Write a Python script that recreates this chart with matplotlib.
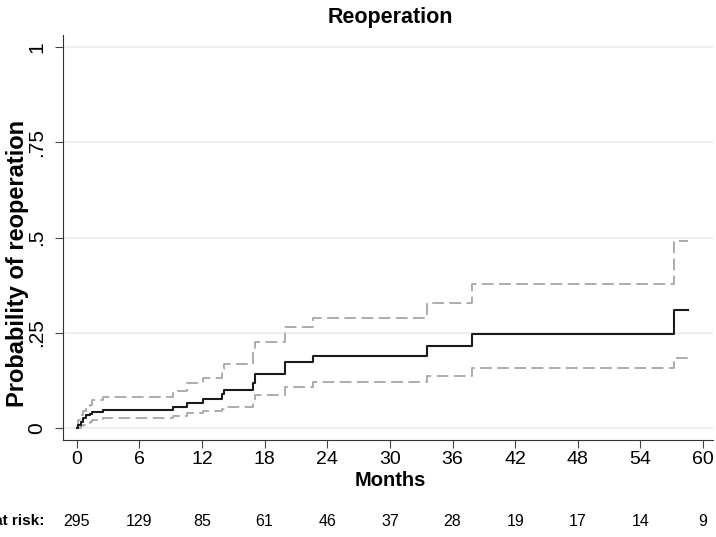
import matplotlib
matplotlib.use("Agg")
import matplotlib.pyplot as plt
from matplotlib.transforms import blended_transform_factory

plt.rcParams["font.family"] = ["Liberation Sans", "DejaVu Sans"]

# event times (months) and cumulative probability with 95% CI
times = [0, 0.15, 0.4, 0.65, 0.9, 1.25, 1.5, 2.55, 9.2, 10.6, 12.1, 13.9, 14.1,
         16.9, 17.1, 20.0, 22.6, 33.6, 37.9, 57.2]
prob = [0, 0.007, 0.017, 0.027, 0.034, 0.038, 0.043, 0.047, 0.054, 0.066, 0.076,
        0.089, 0.100, 0.118, 0.143, 0.172, 0.190, 0.215, 0.246, 0.309]
upper = [0.0, 0.02, 0.035, 0.045, 0.055, 0.06, 0.073, 0.081, 0.097, 0.117, 0.132,
         0.155, 0.169, 0.2, 0.225, 0.266, 0.29, 0.329, 0.377, 0.492]
lower = [0.0, 0.0, 0.004, 0.008, 0.012, 0.016, 0.022, 0.025, 0.031, 0.039, 0.045,
         0.050, 0.056, 0.07, 0.087, 0.108, 0.12, 0.137, 0.158, 0.184]
t_end = 58.6

risk_times = [0, 6, 12, 18, 24, 30, 36, 42, 48, 54, 60]
at_risk = [295, 129, 85, 61, 46, 37, 28, 19, 17, 14, 9]

yticks = [0, 0.25, 0.5, 0.75, 1]
ytick_labels = ["0", ".25", ".5", ".75", "1"]

fig = plt.figure(figsize=(7.16, 5.37), dpi=100)
ax = fig.add_axes([63 / 716, 97 / 537, 650 / 716, 405 / 537])

tt = times + [t_end]
ax.step(tt, upper + [upper[-1]], where="post", color="#a6a6a6", lw=1.3,
        dashes=(6.5, 3))
ax.step(tt, lower + [lower[-1]], where="post", color="#a6a6a6", lw=1.3,
        dashes=(6.5, 3))
ax.step(tt, prob + [prob[-1]], where="post", color="#1a1a1a", lw=1.5)

ax.set_xlim(-1.31, 60.95)
ax.set_ylim(-0.0315, 1.0315)
ax.set_xticks(risk_times)
ax.set_yticks(yticks)
ax.set_yticklabels(ytick_labels, rotation=90, va="center")
ax.tick_params(length=6, color="#444444", direction="out")
ax.tick_params(axis="x", labelsize=14, pad=2)
ax.tick_params(axis="y", labelsize=15, pad=6)
ax.grid(axis="y", color="#ececec", lw=1.2)
ax.set_axisbelow(True)
for s in ["top", "right"]:
    ax.spines[s].set_visible(False)
for s in ["left", "bottom"]:
    ax.spines[s].set_color("#333333")

fig.text(390 / 716, 1 - 17 / 537, "Reoperation", ha="center", va="center",
         fontsize=15.5, fontweight="bold")
fig.text(390 / 716, 1 - 480 / 537, "Months", ha="center", va="center",
         fontsize=14.5, fontweight="bold")
fig.text(17.5 / 716, 1 - 263 / 537, "Probability of reoperation", ha="center",
         va="center", rotation=90, fontsize=17, fontweight="bold")

trans = blended_transform_factory(ax.transData, fig.transFigure)
for x, n in zip(risk_times, at_risk):
    ax.text(x, 16 / 537, str(n), transform=trans, ha="center", va="center",
            fontsize=11.5)
fig.text(44 / 716, 16 / 537, "Number at risk:", ha="right", va="center",
         fontsize=11, fontweight="bold")

fig.savefig("out.png", dpi=100)
